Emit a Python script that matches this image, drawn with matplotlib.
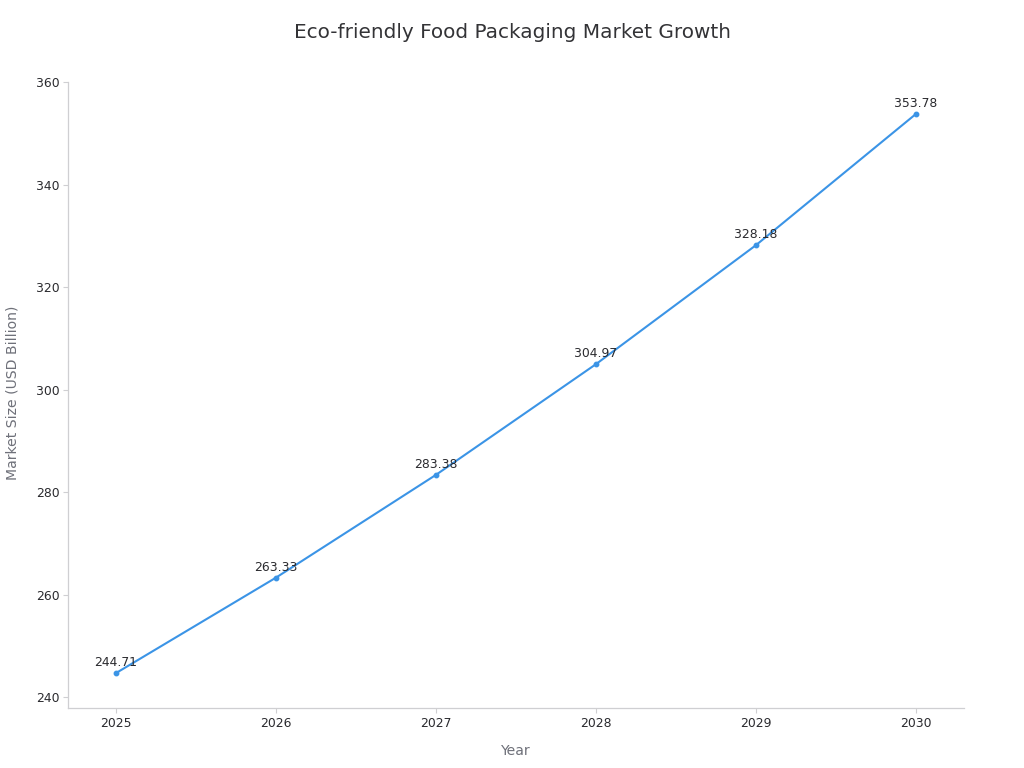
import matplotlib
matplotlib.use("Agg")
import matplotlib.pyplot as plt

years = [2025, 2026, 2027, 2028, 2029, 2030]
market_size = [244.71, 263.33, 283.38, 304.97, 328.18, 353.78]
y_ticks = [240, 260, 280, 300, 320, 340, 360]

LINE = "#3b94e6"
DARK = "#2a2a2e"
MUTED = "#6e7079"
AXIS = "#cfcfd2"

plt.rcParams["font.family"] = ["DejaVu Sans"]

fig = plt.figure(figsize=(10.24, 7.68), dpi=100, facecolor="white")
ax = fig.add_axes([68 / 1024, 1 - 708 / 768, (964 - 68) / 1024, (708 - 82) / 768])

ax.plot(years, market_size, color=LINE, lw=1.5, marker="o", ms=3.2)
for x, y in zip(years, market_size):
    ax.annotate(f"{y:.2f}", (x, y), xytext=(0, 2.8), textcoords="offset points",
                ha="center", va="bottom", fontsize=8.9, color=DARK)

ax.set_xlim(2024.7, 2030.3)
ax.set_ylim(237.9, 360)
ax.set_xticks(years)
ax.set_yticks(y_ticks)
ax.tick_params(axis="x", length=3.6, width=0.8, color=AXIS, labelsize=8.9, labelcolor=DARK, pad=3.2)
ax.tick_params(axis="y", length=3.6, width=0.8, color=AXIS, labelsize=8.9, labelcolor=DARK, pad=2.2)

for side in ("top", "right"):
    ax.spines[side].set_visible(False)
for side in ("left", "bottom"):
    ax.spines[side].set_color(AXIS)
    ax.spines[side].set_linewidth(0.9)

fig.text(512 / 1024, 1 - 33 / 768, "Eco-friendly Food Packaging Market Growth",
         ha="center", va="center", fontsize=14.45, color="#333336")
fig.text(516 / 1024, 1 - 751 / 768, "Year", ha="center", va="center",
         fontsize=10.1, color=MUTED)
fig.text(13 / 1024, 1 - 393 / 768, "Market Size (USD Billion)", rotation=90,
         ha="center", va="center", fontsize=10.1, color=MUTED)

fig.savefig("out.png", dpi=100)
